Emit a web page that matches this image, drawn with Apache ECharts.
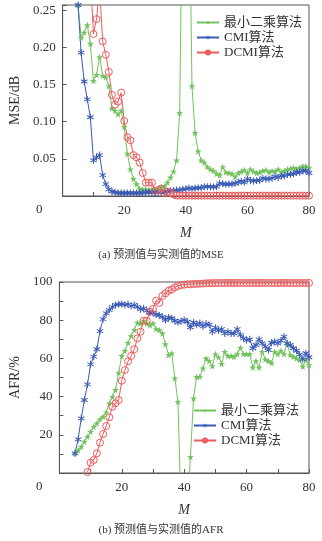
<!DOCTYPE html>
<html>
<head>
<meta charset="utf-8">
<script src="https://cdn.jsdelivr.net/npm/echarts@6/dist/echarts.min.js"></script>
<style>
  html, body { margin: 0; padding: 0; background: #fff; }
  #chart { width: 322px; height: 541px; }
</style>
</head>
<body>
<div id="chart"></div>
<script>
// M values (number of samples)
const mAll = [5,6,7,8,9,10,11,12,13,14,15,16,17,18,19,20,21,22,23,24,25,26,27,28,29,30,
  31,32,33,34,35,36,37,38,39,40,41,42,43,44,45,46,47,48,49,50,51,52,53,54,55,56,57,58,59,60,
  61,62,63,64,65,66,67,68,69,70,71,72,73,74,75,76,77,78,79,80];
const mDcmi = mAll.slice(4); // DCMI starts at M = 9

const seriesNames = ['最小二乘算法', 'CMI算法', 'DCMI算法'];
const xTicks = [0, 20, 40, 60, 80];

// (a) MSE, dB
const mseLsq = [0.257,0.213,0.220,0.230,0.205,0.155,0.163,0.187,0.162,0.160,0.148,0.118,0.115,0.110,0.115,0.093,
  0.057,0.036,0.023,0.016,0.010,0.009,0.009,0.008,0.009,0.009,0.009,0.012,0.013,0.018,0.025,0.033,0.048,0.112,
  0.45,0.8,0.45,0.148,0.085,0.060,0.048,0.045,0.039,0.036,0.034,0.030,0.028,0.039,0.032,0.031,0.030,0.026,
  0.031,0.033,0.035,0.031,0.036,0.033,0.031,0.032,0.034,0.035,0.032,0.034,0.033,0.036,0.032,0.034,0.036,
  0.037,0.038,0.036,0.038,0.040,0.040,0.038];
const mseCmi = [0.257,0.193,0.154,0.130,0.106,0.048,0.052,0.055,0.028,0.016,0.009,0.006,0.005,0.004,0.004,0.004,
  0.004,0.004,0.004,0.004,0.004,0.004,0.005,0.005,0.005,0.005,0.005,0.005,0.005,0.006,0.007,0.007,0.008,0.008,
  0.009,0.0095,0.0108,0.0095,0.0108,0.011,0.011,0.0126,0.0126,0.0126,0.012,0.0126,0.017,0.0164,0.0158,0.016,
  0.016,0.017,0.0184,0.0198,0.0184,0.023,0.021,0.020,0.021,0.021,0.024,0.023,0.023,0.024,0.026,0.025,0.027,
  0.027,0.029,0.029,0.030,0.032,0.032,0.034,0.034,0.031];
const mseDcmi = [0.30,0.218,0.238,0.28,0.208,0.190,0.167,0.136,0.123,0.127,0.139,0.101,0.079,0.075,0.055,0.052,
  0.045,0.031,0.018,0.018,0.018,0.007,0.008,0.010,0.004,0.006,0.004,0.002,
  0.0005,0.0005,0.0005,0.0005,0.0005,0.0005,0.0005,0.0005,0.0005,0.0005,0.0005,0.0005,0.0005,0.0005,0.0005,
  0.0005,0.0005,0.0005,0.0005,0.0005,0.0005,0.0005,0.0005,0.0005,0.0005,0.0005,0.0005,0.0005,0.0005,0.0005,
  0.0005,0.0005,0.0005,0.0005,0.0005,0.0005,0.0005,0.0005,0.0005,0.0005,0.0005,0.0005,0.0005,0.0005];

// (b) AFR, %
const afrLsq = [10.3,12.0,13.8,16.4,19.0,21.6,24.2,26.0,28.1,29.5,31.8,36.5,39.9,43.5,52.5,61.3,64.0,68.2,71.7,
  74.9,78.7,78.3,79.7,78.3,77.4,78.3,75.4,74.9,73.1,67.5,61.8,62.7,49.6,37.3,-20,-40,-20,
  8.5,39.1,50.4,50.4,54.8,60.0,58.6,56.0,62.3,60.6,57.1,63.5,61.3,61.3,60.9,62.3,65.6,62.3,62.3,62.3,55.3,
  58.6,55.3,63.5,59.5,58.6,57.6,63.5,62.3,64.0,62.3,67.9,61.8,60.9,60.0,59.2,55.7,59.2,56.5];
const afrCmi = [10.3,17.6,28.6,38.2,46.4,56.9,60.9,64.8,74.3,80.6,83.6,85.3,87.0,88.0,88.3,88.5,88.0,88.3,87.4,
  88.0,87.0,85.7,86.2,85.0,83.9,83.9,83.0,82.6,81.7,80.1,81.4,81.0,79.7,78.9,79.5,
  80.1,79.2,76.3,78.8,77.6,78.5,76.8,78.1,77.6,74.0,76.1,74.6,75.3,73.1,74.0,73.1,73.1,75.3,72.3,70.5,69.6,
  70.0,65.3,67.0,70.0,67.9,66.2,64.4,68.2,68.7,67.9,69.3,71.4,67.9,67.0,65.3,64.0,62.0,59.5,62.7,60.6];
const afrDcmi = [0.5,5.4,6.8,10.3,15.9,20.4,24.6,29.2,34.7,36.5,38.2,48.3,53.9,58.5,61.3,64.8,70.5,74.0,79.7,
  79.7,84.5,85.9,90.2,89.1,92.7,94.1,95.4,96.1,97.2,97.9,98.4,98.6,98.8,98.8,99.0,99.0,99.1,99.2,99.3,99.4,
  99.4,99.5,99.5,99.5,99.5,99.5,99.5,99.5,99.5,99.5,99.5,99.5,99.5,99.5,99.5,99.5,99.5,99.5,99.5,99.5,99.5,
  99.5,99.5,99.5,99.5,99.5,99.5,99.5,99.5,99.5,99.5,99.5];

const FONT = '"Liberation Serif", "Noto Sans CJK SC", serif';
const GREEN = '#72c25e', BLUE = '#3a5bb5', RED = '#ee5a5a';

const STAR = 'path://M0,-1L0.2245,-0.309L0.951,-0.309L0.363,0.118L0.588,0.809L0,0.382L-0.588,0.809L-0.363,0.118L-0.951,-0.309L-0.2245,-0.309Z';
const ASTER = 'path://M-0.7,-5L0.7,-5L0.7,5L-0.7,5Z' +
  'M3.98,3.106L-4.68,-1.894L-3.98,-3.106L4.68,1.894Z' +
  'M4.68,-1.894L-3.98,3.106L-4.68,1.894L3.98,-3.106Z';

const pairs = (xs, ys) => xs.map((x, i) => [x, ys[i]]);

const chart = echarts.init(document.getElementById('chart'), null, { renderer: 'canvas' });

function xAxisFor(gridIndex) {
  return {
    gridIndex, type: 'value', min: 0, max: 80, interval: 20,
    axisLine: { lineStyle: { color: '#555', width: 1 } },
    axisTick: { inside: true, length: 4, lineStyle: { color: '#555' } },
    minorTick: { show: true, splitNumber: 2, length: 4, lineStyle: { color: '#555' } },
    splitLine: { show: false },
    axisLabel: {
      margin: 8, fontSize: 13, color: '#333', fontFamily: FONT,
      // the shared origin "0" sits left of the corner, drawn as a graphic below
      formatter: v => (v === 0 || xTicks.indexOf(v) < 0) ? '' : String(v)
    },
    name: 'M', nameLocation: 'middle', nameGap: 30,
    nameTextStyle: { fontStyle: 'italic', fontSize: 14, color: '#333', fontFamily: FONT }
  };
}

function lineSeries(name, xi, xs, ys, color, symbol, size) {
  const empty = symbol === 'circle';
  return {
    name, type: 'line', xAxisIndex: xi, yAxisIndex: xi,
    data: pairs(xs, ys), symbol, symbolSize: size, showSymbol: true, clip: true,
    lineStyle: { color, width: 1 },
    itemStyle: empty ? { color: 'rgba(255,255,255,0)', borderColor: color, borderWidth: 1 } : { color },
    emphasis: { disabled: true }
  };
}

const legendBase = {
  orient: 'vertical', itemWidth: 22, itemHeight: 5, itemGap: 2, padding: 0,
  textStyle: { fontSize: 13, color: '#333', fontFamily: FONT },
  data: seriesNames
};

const originText = top => ({
  type: 'text', left: 36, top,
  style: { text: '0', fontSize: 13, fill: '#333', fontFamily: FONT }
});

chart.setOption({
  animation: false,
  title: [
    { text: '(a) 预测值与实测值的MSE', left: 'center', top: 245,
      textStyle: { fontSize: 11, fontWeight: 'normal', color: '#333', fontFamily: FONT } },
    { text: '(b) 预测值与实测值的AFR', left: 'center', top: 520,
      textStyle: { fontSize: 11, fontWeight: 'normal', color: '#333', fontFamily: FONT } }
  ],
  graphic: [originText(203), originText(480)],
  grid: [
    { left: 50, top: 5, width: 259, height: 191, show: true, borderColor: '#555', borderWidth: 1 },
    { left: 50, top: 282, width: 259, height: 191, show: true, borderColor: '#555', borderWidth: 1 }
  ],
  legend: [
    Object.assign({ left: 196, top: 16 }, legendBase),
    Object.assign({ left: 193, top: 404 }, legendBase)
  ],
  xAxis: [xAxisFor(0), xAxisFor(1)],
  yAxis: [
    {
      gridIndex: 0, type: 'value', min: 0, max: 0.257, interval: 0.05,
      axisLine: { lineStyle: { color: '#555' } },
      axisTick: { inside: true, length: 4, lineStyle: { color: '#555' } },
      splitLine: { show: false },
      axisLabel: {
        fontSize: 13, color: '#333', fontFamily: FONT, margin: 7,
        formatter: v => (v === 0 || Math.abs(v * 20 - Math.round(v * 20)) > 1e-6) ? '' : v.toFixed(2)
      },
      name: 'MSE/dB', nameLocation: 'middle', nameGap: 37,
      nameTextStyle: { fontSize: 14, color: '#333', fontFamily: FONT }
    },
    {
      gridIndex: 1, type: 'value', min: 0, max: 100, interval: 20,
      axisLine: { lineStyle: { color: '#555' } },
      axisTick: { inside: true, length: 4, lineStyle: { color: '#555' } },
      minorTick: { show: true, splitNumber: 2, length: 4, lineStyle: { color: '#555' } },
      splitLine: { show: false },
      axisLabel: {
        fontSize: 13, color: '#333', fontFamily: FONT, margin: 7,
        formatter: v => v === 0 ? '' : String(v)
      },
      name: 'AFR/%', nameLocation: 'middle', nameGap: 31,
      nameTextStyle: { fontSize: 14, color: '#333', fontFamily: FONT }
    }
  ],
  series: [
    lineSeries(seriesNames[0], 0, mAll, mseLsq, GREEN, STAR, 7),
    lineSeries(seriesNames[1], 0, mAll, mseCmi, BLUE, ASTER, 7),
    lineSeries(seriesNames[2], 0, mDcmi, mseDcmi, RED, 'circle', 7),
    lineSeries(seriesNames[0], 1, mAll, afrLsq, GREEN, STAR, 7),
    lineSeries(seriesNames[1], 1, mAll, afrCmi, BLUE, ASTER, 7),
    lineSeries(seriesNames[2], 1, mDcmi, afrDcmi, RED, 'circle', 7)
  ]
});
</script>
</body>
</html>
